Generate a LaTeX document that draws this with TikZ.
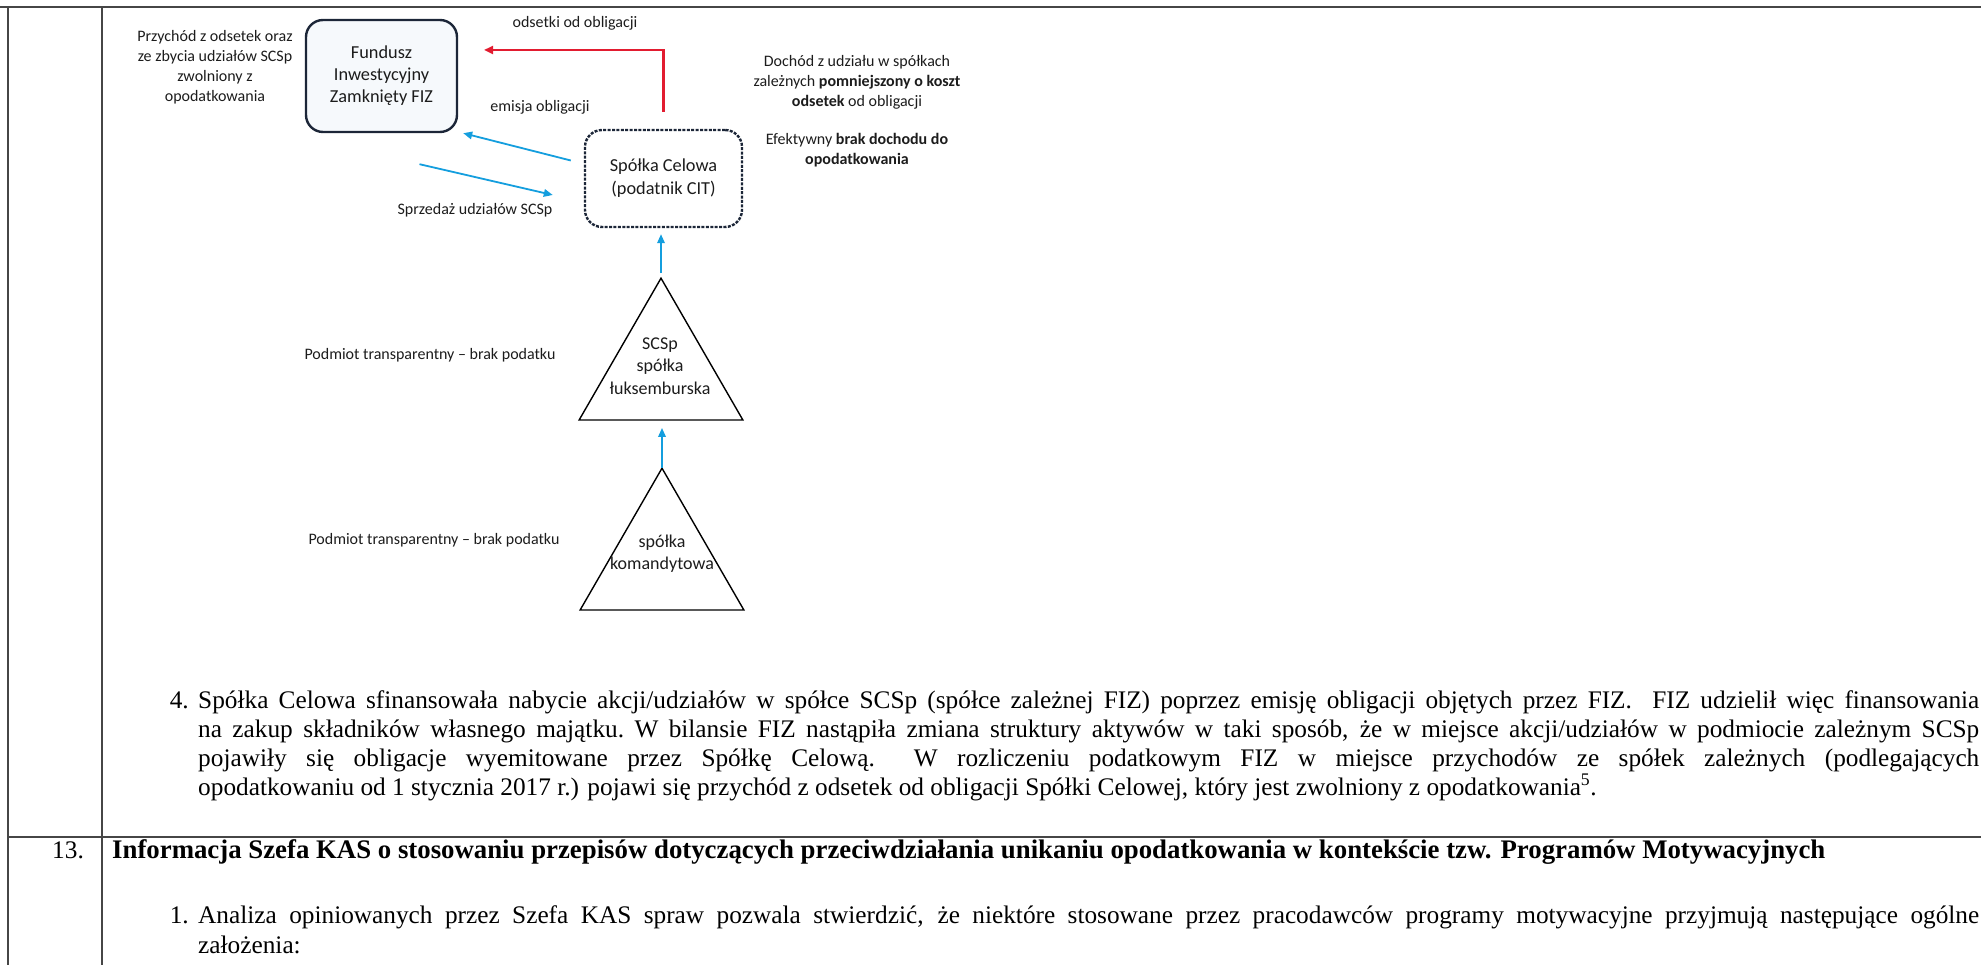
\documentclass[tikz,border=0pt]{standalone}
\usepackage{fontspec}
\setmainfont{Liberation Serif}
\newfontfamily\diagfont{Carlito}
\usetikzlibrary{arrows.meta,shapes.geometric,calc}
\definecolor{cblue}{RGB}{20,158,222}
\definecolor{cred}{RGB}{226,28,48}
\definecolor{navy}{RGB}{28,38,56}
\definecolor{tline}{RGB}{70,70,70}
\definecolor{dtext}{RGB}{28,28,28}
\definecolor{fizfill}{RGB}{246,249,252}
\newcommand\jline[2]{\hbox to #1{\spaceskip=0.25em plus 1fil minus 0.1em\xspaceskip=0.25em plus 1fil minus 0.1em\relax #2}}
\begin{document}
\begin{tikzpicture}[x=1pt,y=-1pt,
  tabline/.style={draw=tline, line width=1.6pt},
  fizbox/.style={draw=navy, line width=2.4pt, rounded corners=17pt, fill=fizfill,
    minimum width=151pt, minimum height=112pt, inner sep=0, align=center,
    font=\diagfont\fontsize{18.3}{22}\selectfont, text=dtext},
  spvbox/.style={draw=navy, line width=2.4pt, dash pattern=on 3pt off 1.4pt, rounded corners=17pt,
    minimum width=157pt, minimum height=97pt, inner sep=0, align=center,
    font=\diagfont\fontsize{18.3}{23}\selectfont, text=dtext},
  tri/.style={regular polygon, regular polygon sides=3, draw=black, line width=1.4pt,
    minimum size=189pt, inner sep=0, outer sep=0},
  tritext/.style={align=center, inner sep=0, font=\diagfont\fontsize{18}{22.5}\selectfont, text=dtext},
  note/.style={align=center, inner sep=0, font=\diagfont\fontsize{16}{20}\selectfont, text=dtext},
  bluearrow/.style={draw=cblue, line width=1.8pt, -{Triangle[length=9pt,width=7.5pt]}},
  redarrow/.style={draw=cred, line width=2.2pt, -{Triangle[length=9pt,width=8pt]}},
  body/.style={inner sep=0, anchor=base west, font=\fontsize{25.3}{29}\selectfont, text=black},
  num/.style={inner sep=0, anchor=base east, font=\fontsize{25.3}{29}\selectfont, text=black},
]
\useasboundingbox (0,0) rectangle (1981,965);
% table
\coordinate (tl) at (0,7);
\coordinate (tr) at (1981,7);
\coordinate (lb1) at (8,7);
\coordinate (lb2) at (8,965);
\coordinate (cd1) at (102,7);
\coordinate (cd2) at (102,965);
\coordinate (rl1) at (8,837);
\coordinate (rl2) at (1981,837);
\draw[tabline] (tl) -- (tr);
\draw[tabline] (lb1) -- (lb2);
\draw[tabline] (cd1) -- (cd2);
\draw[tabline] (rl1) -- (rl2);

% boxes
\node[fizbox] (fiz) at (381.5,76) {Fundusz\\Inwestycyjny\\Zamknięty FIZ};
\node[spvbox] (spv) at (663.5,178.5) {Spółka Celowa\\(podatnik CIT)};
\node[tri] (scsp) at (661,372.7) {};
\node[tri] (sk) at (662,562.7) {};
\node[tritext] (scspt) at (660,366) {SCSp\\spółka\\łuksemburska};
\node[tritext] (skt) at (662,553.5) {spółka\\komandytowa};

% notes
\node[note] (przych) at (215,67) {Przychód z odsetek oraz\\ze zbycia udziałów SCSp\\zwolniony z\\opodatkowania};
\node[note] (odsetki) at (575,23) {odsetki od obligacji};
\node[note] (emisja) at (540,107) {emisja obligacji};
\node[note] (sprzedaz) at (475,210) {Sprzedaż udziałów SCSp};
\node[note] (dochod) at (857,82) {Dochód z udziału w spółkach\\zależnych \textbf{pomniejszony o koszt}\\\textbf{odsetek} od obligacji};
\node[note] (efekt) at (857,150) {Efektywny \textbf{brak dochodu do}\\\textbf{opodatkowania}};
\node[note] (podm1) at (430,355) {Podmiot transparentny – brak podatku};
\node[note] (podm2) at (434,540) {Podmiot transparentny – brak podatku};

% connectors
\coordinate (redtip) at (484,50);
\draw[redarrow, shorten <=17pt] (spv.north) -- (spv.north |- redtip) -- (redtip);
\draw[bluearrow] ($(spv.west)+(-13,-18)$) -- ($(fiz.south east)+(5,0)$);
\draw[bluearrow] ($(fiz.south)+(38,31)$) -- ($(spv.west)+(-31,16.5)$);
\draw[bluearrow, shorten <=5pt, shorten >=6pt] (scsp.corner 1) -- (scsp.corner 1 |- spv.south);
\draw[bluearrow, shorten >=8pt] (sk.corner 1) -- (sk.corner 1 |- scsp.south);

% body text
\node[num] (n4) at (189,708) {4.};
\node[body] (p1) at (198,708) {\jline{1781pt}{Spółka Celowa sfinansowała nabycie akcji/udziałów w spółce SCSp (spółce zależnej FIZ) poprzez emisję obligacji objętych przez FIZ.\ \ FIZ udzielił więc finansowania}};
\node[body] (p2) at (198,737) {\jline{1781pt}{na zakup składników własnego majątku. W bilansie FIZ nastąpiła zmiana struktury aktywów w taki sposób, że w miejsce akcji/udziałów w podmiocie zależnym SCSp}};
\node[body] (p3) at (198,766) {\jline{1781pt}{pojawiły się obligacje wyemitowane przez Spółkę Celową.\ \ W rozliczeniu podatkowym FIZ w miejsce przychodów ze spółek zależnych (podlegających}};
\node[body] (p4) at (198,795) {opodatkowaniu od 1 stycznia 2017 r.) pojawi się przychód z odsetek od obligacji Spółki Celowej, który jest zwolniony z opodatkowania\textsuperscript{5}.};
\node[body] (n13) at (52,858) {13.};
\node[body, font=\fontsize{26.8}{29}\selectfont\bfseries] (head) at (112,858) {Informacja Szefa KAS o stosowaniu przepisów dotyczących przeciwdziałania unikaniu opodatkowania w kontekście tzw. Programów Motywacyjnych};
\node[num] (n1) at (189,923) {1.};
\node[body] (a1) at (198,923) {\jline{1781pt}{Analiza opiniowanych przez Szefa KAS spraw pozwala stwierdzić, że niektóre stosowane przez pracodawców programy motywacyjne przyjmują następujące ogólne}};
\node[body] (a2) at (198,953) {założenia:};
\end{tikzpicture}
\end{document}
